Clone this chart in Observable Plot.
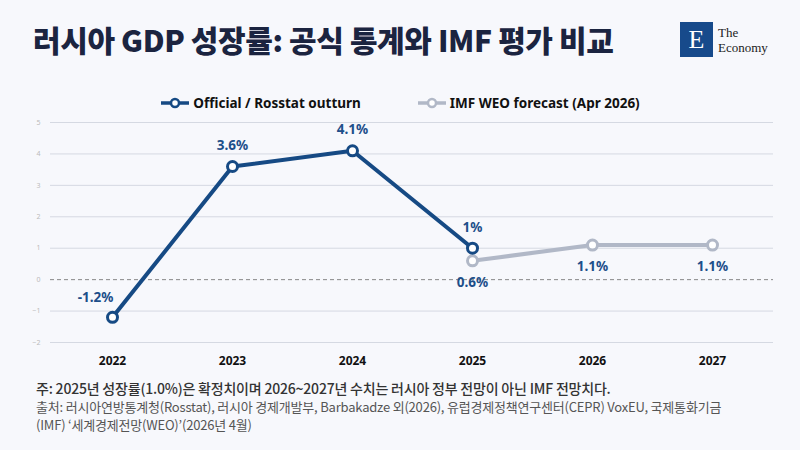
<!DOCTYPE html>
<html><head><meta charset="utf-8">
<script src="https://cdn.jsdelivr.net/npm/d3@7"></script>
<script src="https://cdn.jsdelivr.net/npm/@observablehq/plot@0.6"></script>
<style>
html,body{margin:0;padding:0;background:#f7f8fc;}
body{width:800px;height:450px;position:relative;overflow:hidden;font-family:"Noto Sans CJK KR","Noto Sans",sans-serif;}
#title{position:absolute;left:33px;top:17px;font-size:30px;font-weight:900;color:#1b2440;letter-spacing:-0.4px;}
#logo{position:absolute;left:680px;top:22px;display:flex;align-items:center;}
#logo .box{width:33px;height:35px;background:#174a8b;color:#fff;font-family:"Liberation Serif",serif;font-size:26px;display:flex;align-items:center;justify-content:center;}
#logo .txt{margin-left:5px;font-family:"Liberation Serif","DejaVu Serif",serif;font-size:13px;line-height:15px;color:#222;}
#legend{position:absolute;top:94px;left:0;width:800px;display:flex;justify-content:center;gap:56px;font-family:"Noto Sans","Noto Sans CJK KR",sans-serif;font-size:13.5px;font-weight:700;color:#111;}
#legend span{display:flex;align-items:center;}
#legend svg{margin-right:3px;}
#chart{position:absolute;left:0;top:110px;}
#note{position:absolute;left:36px;top:378px;font-size:14px;font-weight:500;color:#333;letter-spacing:-0.2px;}
#src{position:absolute;left:36px;top:398px;font-size:13px;color:#555;line-height:18px;letter-spacing:-0.2px;}
</style></head>
<body>
<div id="title">러시아 GDP 성장률: 공식 통계와 IMF 평가 비교</div>
<div id="logo"><div class="box">E</div><div class="txt"><div>The</div><div>Economy</div></div></div>
<div id="legend"></div>
<div id="chart"></div>
<div id="note">주: 2025년 성장률(1.0%)은 확정치이며 2026~2027년 수치는 러시아 정부 전망이 아닌 IMF 전망치다.</div>
<div id="src"><div>출처: 러시아연방통계청(Rosstat), 러시아 경제개발부, Barbakadze 외(2026), 유럽경제정책연구센터(CEPR) VoxEU, 국제통화기금</div><div>(IMF) ‘세계경제전망(WEO)’(2026년 4월)</div></div>
<script>
const years = ["2022","2023","2024","2025","2026","2027"];
const officialYears = ["2022","2023","2024","2025"];
const officialValues = [-1.2, 3.6, 4.1, 1.0];
const officialLabels = ["-1.2%","3.6%","4.1%","1%"];
const imfYears = ["2025","2026","2027"];
const imfValues = [0.6, 1.1, 1.1];
const imfLabels = ["0.6%","1.1%","1.1%"];
const yTicks = [-2,-1,0,1,2,3,4,5];
const seriesNames = ["Official / Rosstat outturn","IMF WEO forecast (Apr 2026)"];

const official = officialYears.map((y,i)=>({year:y,value:officialValues[i],label:officialLabels[i]}));
const imf = imfYears.map((y,i)=>({year:y,value:imfValues[i],label:imfLabels[i]}));

const blue = "#164a84", gray = "#b1b8c7", labelColor = "#1d4f8a";

const leg = document.getElementById("legend");
[[blue, seriesNames[0]],[gray, seriesNames[1]]].forEach(([c,t])=>{
  const s = document.createElement("span");
  s.innerHTML = `<svg width="30" height="12"><line x1="1" y1="6" x2="29" y2="6" stroke="${c}" stroke-width="3.5"/><circle cx="15" cy="6" r="4" fill="#fff" stroke="${c}" stroke-width="2.5"/></svg>${t}`;
  leg.appendChild(s);
});

const labelStyle = {x: "year", y: "value", text: "label", fill: labelColor, fontSize: 13.5, fontWeight: 700};

const chart = Plot.plot({
  width: 800, height: 268,
  marginLeft: 50, marginRight: 27, marginTop: 12, marginBottom: 36,
  style: {background: "transparent", fontFamily: "'Noto Sans',sans-serif"},
  x: {type: "point", domain: years, padding: 0.5, label: null},
  y: {domain: [-2, 5], label: null},
  marks: [
    Plot.ruleY(yTicks.filter(d=>d!==0), {stroke: "#d5d9e2", strokeWidth: 1}),
    Plot.ruleY([0], {stroke: "#888", strokeDasharray: "4,3", strokeWidth: 1}),
    Plot.axisY(yTicks, {tickSize: 0, tickPadding: 10, fontSize: 7, fill: "#bbb", label: null}),
    Plot.axisX({tickSize: 0, tickPadding: 14, fontSize: 12, fontWeight: 700, fill: "#111", label: null}),
    Plot.line(imf, {x: "year", y: "value", stroke: gray, strokeWidth: 4}),
    Plot.line(official, {x: "year", y: "value", stroke: blue, strokeWidth: 4}),
    Plot.dot(imf, {x: "year", y: "value", r: 5, fill: "#fff", stroke: gray, strokeWidth: 3}),
    Plot.dot(official, {x: "year", y: "value", r: 5, fill: "#fff", stroke: blue, strokeWidth: 3}),
    Plot.text(official.filter(d=>d.value>=0), {...labelStyle, dy: -21}),
    Plot.text(official.filter(d=>d.value<0), {...labelStyle, dx: -17, dy: -20}),
    Plot.text(imf, {...labelStyle, dy: 22})
  ]
});
document.getElementById("chart").appendChild(chart);
</script>
</body></html>
